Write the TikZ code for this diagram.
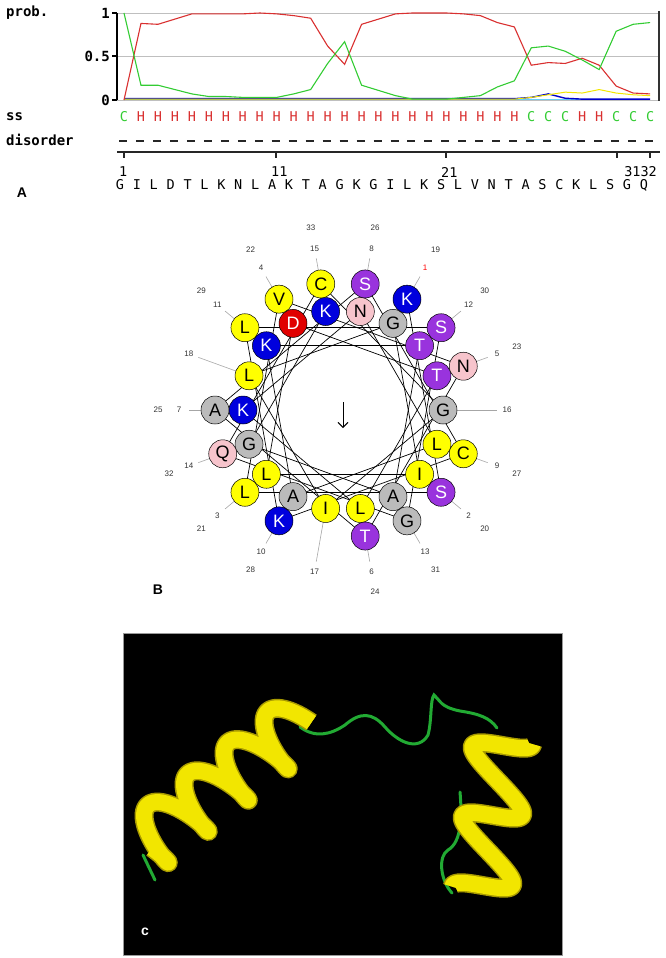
\documentclass[tikz,border=0pt]{standalone}
\usepackage{fontspec}
\setmainfont{Liberation Sans}
\newfontfamily\monof{DejaVu Sans Mono}
\usetikzlibrary{arrows.meta}
\begin{document}
\begin{tikzpicture}[x=1pt,y=-1pt]
\definecolor{hb}{HTML}{0000DD}
\definecolor{hr}{HTML}{E00000}
\definecolor{hp}{HTML}{9933DD}
\definecolor{hy}{HTML}{FFFF00}
\definecolor{hg}{HTML}{BBBBBB}
\definecolor{hk}{HTML}{F7C4CC}
\definecolor{cred}{HTML}{D93030}
\definecolor{cgreen}{HTML}{33CC33}
\definecolor{ryel}{HTML}{F2E600}
\definecolor{rdark}{HTML}{A89A00}
\definecolor{tube}{HTML}{22AA33}
\tikzset{res/.style={circle,draw=black,line width=0.5pt,minimum size=28pt,inner sep=0pt},
  mono/.style={font=\monof\bfseries\fontsize{14}{14}\selectfont},
  monor/.style={font=\monof\fontsize{13.5}{14}\selectfont},
  wnum/.style={font=\fontsize{8}{8}\selectfont,text=black!80}}
\useasboundingbox (0,0) rectangle (666,958);
% ---------- Panel A ----------
\node[mono,anchor=west,inner sep=0pt] (lprob) at (6,13) {prob.};
\node[mono,anchor=west,inner sep=0pt] (lss) at (6,117) {ss};
\node[mono,anchor=west,inner sep=0pt] (ldis) at (6,140) {disorder};
\node[mono,anchor=east,inner sep=0pt] (t1) at (110,13) {1};
\node[mono,anchor=east,inner sep=0pt] (t05) at (110,56) {0.5};
\node[mono,anchor=east,inner sep=0pt] (t0) at (110,100) {0};
\draw[black!25,line width=0.8pt] (117,13) -- (659,13) (117,56) -- (659,56) (117,100) -- (659,100);
\draw[black,line width=1.3pt] (117,13) -- (117,100);
\draw[black,line width=1.3pt] (112,13) -- (117,13) (112,56) -- (117,56) (112,100) -- (117,100);
\draw[black!80,line width=1.3pt] (659,11) -- (659,101);
\begin{scope}[shift={(124,100)},x=16.97pt,y=87pt]
\draw[cyan!60,line width=1.4pt] (0,0.005) -- (31,0.005);
\draw[blue!80!black,line width=1.4pt] (0,0.015) -- (23,0.015) -- (24,0.03) -- (25,0.07) -- (26,0.02) -- (27,0.01) -- (31,0.01);
\draw[ryel,line width=1pt] (0,0.01) -- (23,0.01) -- (24,0.03) -- (25,0.06) -- (26,0.09) -- (27,0.08) -- (28,0.12) -- (29,0.08) -- (30,0.06) -- (31,0.05);
\draw[cred,line width=1.1pt] (0,0) -- (1,.88) -- (2,.87) -- (3,.93) -- (4,.99) -- (5,.99) -- (6,.99) -- (7,.99) -- (8,1) -- (9,.99) -- (10,.97) -- (11,.94) -- (12,.62) -- (13,.41) -- (14,.87) -- (15,.93) -- (16,.99) -- (17,1) -- (18,1) -- (19,1) -- (20,.99) -- (21,.97) -- (22,.89) -- (23,.84) -- (24,.40) -- (25,.43) -- (26,.42) -- (27,.48) -- (28,.40) -- (29,.16) -- (30,.08) -- (31,.07);
\draw[cgreen,line width=1.1pt] (0,1) -- (1,.17) -- (2,.17) -- (3,.12) -- (4,.07) -- (5,.04) -- (6,.04) -- (7,.03) -- (8,.03) -- (9,.03) -- (10,.07) -- (11,.12) -- (12,.42) -- (13,.67) -- (14,.17) -- (15,.11) -- (16,.05) -- (17,.01) -- (18,.01) -- (19,.01) -- (20,.03) -- (21,.05) -- (22,.15) -- (23,.22) -- (24,.60) -- (25,.62) -- (26,.56) -- (27,.46) -- (28,.35) -- (29,.79) -- (30,.87) -- (31,.89);
\end{scope}
\foreach \i/\s in {1/C,2/H,3/H,4/H,5/H,6/H,7/H,8/H,9/H,10/H,11/H,12/H,13/H,14/H,15/H,16/H,17/H,18/H,19/H,20/H,21/H,22/H,23/H,24/H,25/C,26/C,27/C,28/H,29/H,30/C,31/C,32/C}{
  \pgfmathsetmacro\xx{124+16.97*(\i-1)}
  \if\s C\def\cc{cgreen}\else\def\cc{cred}\fi
  \node[monor,text=\cc,inner sep=0pt] (ss\i) at (\xx,117) {\s};
}
\draw[black!85,line width=1.3pt,dash pattern=on 8pt off 8.97pt] (119,141) -- (656,141);
\draw[black!85,line width=1.3pt] (117,152) -- (660,152);
\foreach \x in {124,276,446,617,650}{
  \draw[black!85,line width=1.2pt] (\x,152) -- (\x,158);
}
\node[monor,inner sep=0pt,anchor=west] (n1) at (119,172) {1};
\node[monor,inner sep=0pt,anchor=west] (n11) at (271,172) {11};
\node[monor,inner sep=0pt,anchor=west] (n21) at (441,172) {21};
\node[monor,inner sep=0pt,anchor=east] (n31) at (657,172) {3132};
\foreach \i/\s in {1/G,2/I,3/L,4/D,5/T,6/L,7/K,8/N,9/L,10/A,11/K,12/T,13/A,14/G,15/K,16/G,17/I,18/L,19/K,20/S,21/L,22/V,23/N,24/T,25/A,26/S,27/C,28/K,29/L,30/S,31/G,32/Q}{
  \pgfmathsetmacro\xx{120+16.9*(\i-1)}
  \node[monor,inner sep=0pt] (sq\i) at (\xx,185) {\s};
}
\node[font=\bfseries\fontsize{14}{14}\selectfont] (labA) at (22,193) {A};
% ---------- Panel B ----------
\foreach \i in {1,...,33}{
  \pgfmathsetmacro\th{30+100*(\i-1)}
  \pgfmathsetmacro\rr{\i<16 ? 128 : 100}
  \coordinate (r\i) at ({343+\rr*sin(\th)},{410-\rr*cos(\th)});
}
\foreach \i in {1,...,18}{
  \pgfmathsetmacro\th{30+100*(\i-1)}
  \coordinate (q\i) at ({343+154*sin(\th)},{410-154*cos(\th)});
  \draw[black!35,line width=0.6pt] (r\i) -- (q\i);
}
\foreach \i [evaluate=\i as \j using int(\i+1)] in {1,...,32}{
  \draw[black,line width=0.7pt] (r\i) -- (r\j);
}
\foreach \i/\c in {33/hb,32/hg,31/hg,30/hp,29/hb,28/hg,27/hy,26/hk,25/hb,24/hy,23/hp,22/hr,21/hy,20/hy,19/hg,18/hy,17/hy,16/hg,15/hy,14/hk,13/hg,12/hp,11/hy,10/hb,9/hy,8/hp,7/hg,6/hp,5/hk,4/hy,3/hy,2/hp,1/hb}{
  \node[res,fill=\c] (w\i) at (r\i) {};
}
\foreach \i/\a/\tc in {33/K/white,30/T/white,29/K/white,25/K/white,23/T/white,22/D/white,12/S/white,10/K/white,8/S/white,6/T/white,2/S/white,1/K/white,32/G/black,31/A/black,28/A/black,27/L/black,26/N/black,24/L/black,21/L/black,20/I/black,19/G/black,18/L/black,17/I/black,16/G/black,15/C/black,14/Q/black,13/G/black,11/L/black,9/C/black,7/A/black,5/N/black,4/V/black,3/L/black}{
  \node[font=\fontsize{18}{18}\selectfont,text=\tc,inner sep=0pt] (wt\i) at (r\i) {\a};
}
\foreach \i in {1,...,33}{
  \pgfmathsetmacro\th{30+100*(\i-1)}
  \pgfmathsetmacro\lr{\i<19 ? 164 : 185}
  \ifnum\i=1 \def\lc{red}\else\def\lc{black!80}\fi
  \node[wnum,text=\lc] (lb\i) at ({343+\lr*sin(\th)},{410-\lr*cos(\th)}) {\i};
}
\coordinate (arT) at (343,402);
\coordinate (arB) at (343,428);
\draw[black,line width=0.9pt,-{Straight Barb[length=5pt,width=10pt]}] (arT) -- (arB);
\node[font=\bfseries\fontsize{14}{14}\selectfont] (labB) at (158,590) {B};
% ---------- Panel C ----------
\fill[black] (123,633) rectangle (562,955);
\draw[black!40,line width=0.6pt] (123,633) rectangle (562,955);
\draw[tube,line width=3pt,line cap=round] (155,880) -- (143,855);
\draw[tube,line width=3pt,line cap=round] (300,727) .. controls (315,738) and (330,735) .. (345,725) .. controls (360,712) and (372,712) .. (385,727) .. controls (398,742) and (418,752) .. (428,735) .. controls (432,720) and (430,700) .. (434,695) .. controls (440,700) and (440,707) .. (460,711) .. controls (480,714) and (490,718) .. (497,728);
\draw[tube,line width=3pt,line cap=round] (460,792) .. controls (462,815) and (462,842) .. (448,850) .. controls (438,856) and (440,880) .. (452,893);
\draw[rdark,line width=19pt,line join=round] plot[domain=0:1,samples=200,variable=\t] ({140+160*\t+0.622*28*sin(1440*\t)+12*cos(1440*\t)},{848-125*\t+0.783*28*sin(1440*\t)});
\draw[ryel,line width=16pt,line join=round] plot[domain=0:1,samples=200,variable=\t] ({140+160*\t+0.622*28*sin(1440*\t)+12*cos(1440*\t)},{848-125*\t+0.783*28*sin(1440*\t)});
\draw[rdark,line width=19pt,line join=round] plot[domain=0:1,samples=160,variable=\t] ({505-25*\t+0.99*28*sin(900*\t+90)},{728+175*\t+0.15*28*sin(900*\t+90)+12*cos(900*\t)});
\draw[ryel,line width=16pt,line join=round] plot[domain=0:1,samples=160,variable=\t] ({505-25*\t+0.99*28*sin(900*\t+90)},{728+175*\t+0.15*28*sin(900*\t+90)+12*cos(900*\t)});
\node[font=\bfseries\fontsize{14}{14}\selectfont,text=white] (labC) at (145,932) {c};
\end{tikzpicture}
\end{document}
